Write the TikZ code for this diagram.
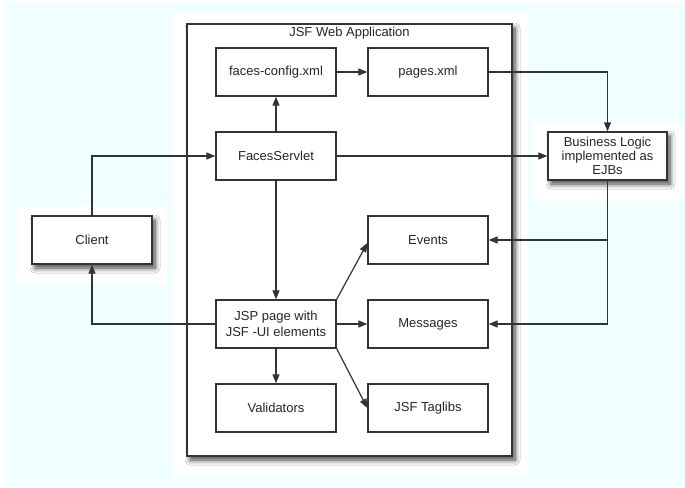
\documentclass[tikz,border=0pt]{standalone}
\usepackage{fontspec}
\setmainfont{Liberation Sans}
\usetikzlibrary{arrows.meta,shadows.blur}

\definecolor{canvas}{HTML}{F0FFFF}
\definecolor{ink}{HTML}{333333}

\begin{document}
\begin{tikzpicture}[x=1pt,y=-1pt,
  every node/.style={font=\fontsize{13}{15}\selectfont, text=black!85},
  box/.style={draw=ink, line width=1.3pt, fill=white, minimum width=120pt,
    minimum height=48pt, align=center, inner sep=0pt},
  shadowed/.style={blur shadow={shadow xshift=3pt, shadow yshift=-4pt,
    shadow blur steps=8, shadow blur radius=5pt, shadow opacity=75}},
  link/.style={draw=ink, line width=1.2pt, -{Triangle[length=9pt,width=7pt]}},
]
\useasboundingbox (0,0) rectangle (685,487);

% page background and the white pads behind the shadowed boxes
\fill[canvas] (5,3) rectangle (685,487);
\fill[white] (173,14) rectangle (528,477);
\fill[white] (17,206) rectangle (167,285);
\fill[white] (533,122) rectangle (683,201);

% application container
\node[box, shadowed, minimum width=325pt, minimum height=432pt] (app) at (349.5,240) {};
\node (title) at (349.5,33) {JSF Web Application};

% outer components
\node[box, shadowed] (cl) at (92,240) {Client};
\node[box, shadowed, minimum width=119pt, font=\fontsize{13}{14}\selectfont] (bl) at (607.5,156)
  {Business Logic\\implemented as\\EJBs};

% components inside the web application
\node[box] (fc)  at (276,72)  {faces-config.xml};
\node[box] (pg)  at (428,72)  {pages.xml};
\node[box] (fs)  at (276,156) {FacesServlet};
\node[box] (ev)  at (428,240) {Events};
\node[box, font=\fontsize{13}{16}\selectfont] (jsp) at (276,324) {JSP page with\\JSF -UI elements};
\node[box] (msg) at (428,324) {Messages};
\node[box] (val) at (276,408) {Validators};
\node[box] (tl)  at (428,408) {JSF Taglibs};

% connectors
\draw[link] (fc.east) -- (pg.west);
\draw[link] (pg.east) -| (bl.north);
\draw[link] (fs.north) -- (fc.south);
\draw[link] (fs.east) -- (bl.west);
\draw[link] (cl.north) |- (fs.west);
\draw[link] (fs.south) -- (jsp.north);
\draw[link] (jsp.west) -| (cl.south);
\draw[link] (jsp.east) -- (msg.west);
\draw[link] (jsp.north east) -- ([yshift=-3pt]ev.west);
\draw[link] (jsp.south east) -- (tl.west);
\draw[link] (jsp.south) -- (val.north);
\draw[link] (bl.south) |- (msg.east);
\draw[link] (bl.south |- ev.east) -- (ev.east);
\end{tikzpicture}
\end{document}
